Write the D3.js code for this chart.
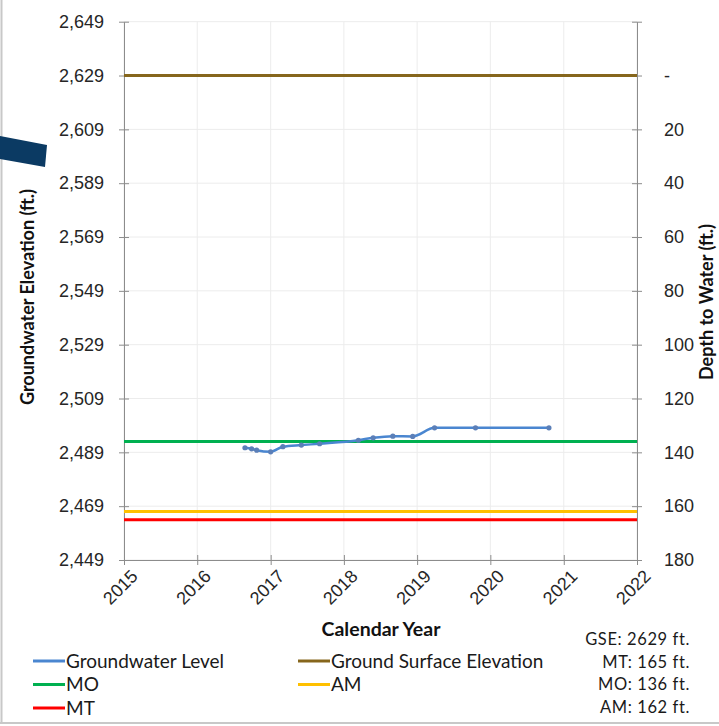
<!DOCTYPE html>
<html>
<head>
<meta charset="utf-8">
<script src="https://cdn.jsdelivr.net/npm/d3@7"></script>
<style>
  body { margin: 0; background: #fff; }
  svg { display: block; font-family: Lato, "Open Sans", sans-serif; }
  .axis path, .axis line { stroke: #8c8c8c; }
  .axis text { fill: #262626; font-size: 18px; }
</style>
</head>
<body>
<div id="chart"></div>
<script>
// groundwater hydrograph, elevation on the left, depth to water on the right

const gwDates = ['2016-08-26', '2016-09-28', '2016-10-23', '2017-01-01', '2017-03-03',
  '2017-06-03', '2017-09-02', '2018-03-14', '2018-05-27', '2018-09-02', '2018-12-10',
  '2019-03-29', '2019-10-19', '2020-10-19'];
const gwElev = [2490.7, 2490.3, 2489.8, 2489.2, 2491.1, 2491.7, 2492.2, 2493.5,
  2494.4, 2495.0, 2494.9, 2498.1, 2498.1, 2498.1];

const gse = 2629;
const thresholdNames = ['Ground Surface Elevation', 'MO', 'AM', 'MT'];
const thresholdDepths = [0, 136, 162, 165];
const thresholdColors = ['#86661c', '#00b050', '#ffc000', '#ff0000'];

const elevTicks = [2449, 2469, 2489, 2509, 2529, 2549, 2569, 2589, 2609, 2629, 2649];
const yearTicks = [2015, 2016, 2017, 2018, 2019, 2020, 2021, 2022];

const legendItems = [
  { label: 'Groundwater Level', color: '#4a86d0', col: 0, row: 0 },
  { label: 'Ground Surface Elevation', color: '#86661c', col: 1, row: 0 },
  { label: 'MO', color: '#00b050', col: 0, row: 1 },
  { label: 'AM', color: '#ffc000', col: 1, row: 1 },
  { label: 'MT', color: '#ff0000', col: 0, row: 2 }
];
const notes = ['GSE: 2629 ft.', 'MT: 165 ft.', 'MO: 136 ft.', 'AM: 162 ft.'];

const W = 719, H = 726;
const plot = { left: 124, right: 637, top: 21.7, bottom: 560 };

const svg = d3.select('#chart').append('svg')
  .attr('width', W).attr('height', H);

// frame edges
svg.append('line').attr('x1', 1.5).attr('x2', 1.5).attr('y1', 0).attr('y2', 723)
  .attr('stroke', '#c8c8c8').attr('stroke-width', 2);
svg.append('line').attr('x1', 0).attr('x2', W).attr('y1', 723).attr('y2', 723)
  .attr('stroke', '#c8c8c8').attr('stroke-width', 2);

const parseDate = d3.timeParse('%Y-%m-%d');
const x = d3.scaleTime()
  .domain([new Date(2015, 0, 1), new Date(2022, 0, 1)])
  .range([plot.left, plot.right]);
const y = d3.scaleLinear()
  .domain([2449, 2649])
  .range([plot.bottom, plot.top]);

// gridlines
svg.append('g').selectAll('line.h').data(elevTicks).enter().append('line')
  .attr('x1', plot.left).attr('x2', plot.right)
  .attr('y1', d => y(d)).attr('y2', d => y(d))
  .attr('stroke', '#ececec');
svg.append('g').selectAll('line.v').data(yearTicks).enter().append('line')
  .attr('x1', d => x(new Date(d, 0, 1))).attr('x2', d => x(new Date(d, 0, 1)))
  .attr('y1', plot.top).attr('y2', plot.bottom)
  .attr('stroke', '#ececec');

// left axis
const leftAxis = svg.append('g')
  .attr('class', 'axis')
  .attr('transform', `translate(${plot.left},0)`)
  .call(d3.axisLeft(y).tickValues(elevTicks).tickFormat(d3.format(',')).tickSizeOuter(0).tickPadding(14));
leftAxis.selectAll('.tick line').attr('x1', 5).attr('x2', -5);

// right axis, depth below ground surface
const rightAxis = svg.append('g')
  .attr('class', 'axis')
  .attr('transform', `translate(${plot.right},0)`)
  .call(d3.axisRight(y).tickValues(elevTicks).tickSizeOuter(0).tickPadding(21)
    .tickFormat(d => {
      const depth = gse - d;
      if (depth < 0) return '';
      return depth === 0 ? '-' : d3.format(',')(depth);
    }));
rightAxis.selectAll('.tick line').attr('x1', -5).attr('x2', 5);

// bottom axis
const bottomAxis = svg.append('g')
  .attr('class', 'axis')
  .attr('transform', `translate(0,${plot.bottom})`)
  .call(d3.axisBottom(x).tickValues(yearTicks.map(d => new Date(d, 0, 1)))
    .tickFormat(d3.timeFormat('%Y')).tickSizeOuter(0));
bottomAxis.selectAll('.tick line').attr('y1', -5).attr('y2', 5);
bottomAxis.selectAll('.tick text')
  .attr('text-anchor', 'end')
  .attr('dy', 0)
  .attr('transform', 'translate(8,11) rotate(-45)');

// threshold lines
svg.append('g').selectAll('line').data(thresholdDepths).enter().append('line')
  .attr('x1', plot.left).attr('x2', plot.right)
  .attr('y1', d => y(gse - d)).attr('y2', d => y(gse - d))
  .attr('stroke', (d, i) => thresholdColors[i])
  .attr('stroke-width', 3);

// groundwater level series
const gw = gwDates.map((d, i) => ({ date: parseDate(d), elev: gwElev[i] }));
svg.append('path')
  .datum(gw)
  .attr('fill', 'none')
  .attr('stroke', '#4a86d0')
  .attr('stroke-width', 2.5)
  .attr('d', d3.line().x(d => x(d.date)).y(d => y(d.elev)).curve(d3.curveMonotoneX));
svg.append('g').selectAll('circle').data(gw).enter().append('circle')
  .attr('cx', d => x(d.date))
  .attr('cy', d => y(d.elev))
  .attr('r', 2.6)
  .attr('fill', '#5b7fb8');

// axis titles
svg.append('text')
  .attr('transform', 'translate(34,297) rotate(-90)')
  .attr('text-anchor', 'middle')
  .attr('font-size', 18).attr('font-weight', 'bold').attr('fill', '#111')
  .text('Groundwater Elevation (ft.)');
svg.append('text')
  .attr('transform', 'translate(713,302) rotate(-90)')
  .attr('text-anchor', 'middle')
  .attr('font-size', 18).attr('font-weight', 'bold').attr('fill', '#111')
  .text('Depth to Water (ft.)');
svg.append('text')
  .attr('x', 381).attr('y', 636)
  .attr('text-anchor', 'middle')
  .attr('font-size', 19.5).attr('font-weight', 'bold').attr('fill', '#111')
  .text('Calendar Year');

// legend
const legend = svg.append('g');
const lg = legend.selectAll('g').data(legendItems).enter().append('g')
  .attr('transform', d => `translate(${d.col ? 298 : 33},${661 + d.row * 23.5})`);
lg.append('line').attr('x1', 0).attr('x2', 32)
  .attr('stroke', d => d.color).attr('stroke-width', 3);
lg.append('text').attr('x', 33).attr('dy', '0.35em')
  .attr('font-size', 19).attr('fill', '#1a1a1a')
  .text(d => d.label);

// notes at bottom right
svg.append('g').selectAll('text').data(notes).enter().append('text')
  .attr('x', 690)
  .attr('y', (d, i) => 645 + i * 22.5)
  .attr('text-anchor', 'end')
  .attr('font-size', 16.5).attr('letter-spacing', 0.6).attr('fill', '#1a1a1a')
  .text(d => d);

// dark blue slide marker on the left edge
svg.append('path')
  .attr('d', d3.line()([[0, 136], [47, 145], [45, 167], [0, 159]]))
  .attr('fill', '#0b3a63');
</script>
</body>
</html>
